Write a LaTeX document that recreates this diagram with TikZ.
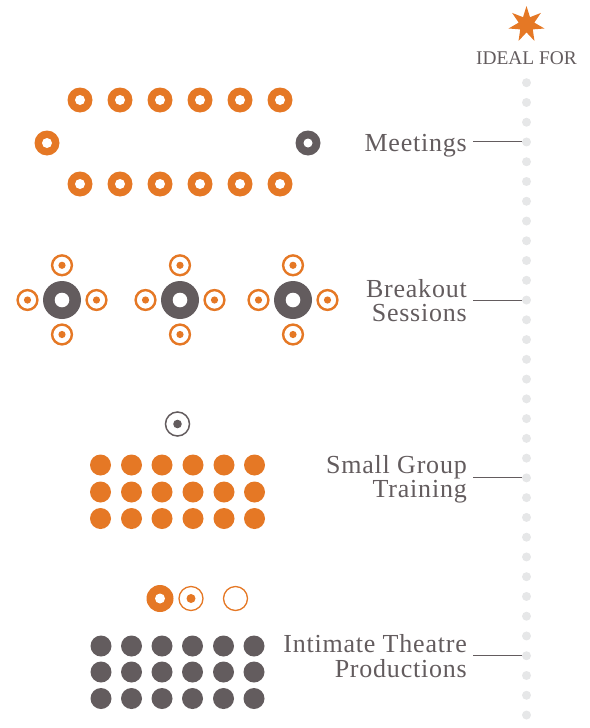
\documentclass[tikz,border=0pt]{standalone}
\usepackage{fontspec}
\setmainfont{Liberation Serif}
\newfontfamily\labfont[LetterSpace=3]{Liberation Serif}
\definecolor{org}{HTML}{E57825}
\definecolor{gry}{HTML}{635C5E}
\definecolor{lgt}{HTML}{E6E7E8}
\tikzset{
  soliddisc/.style={circle,inner sep=0pt,minimum size=21pt,fill=#1},
  seat/.pic={\fill[org] (0,0) circle (12.5pt); \fill[white] (0,0) circle (5pt);},
  gseat/.pic={\fill[gry] (0,0) circle (12.5pt); \fill[white] (0,0) circle (4.5pt);},
  hub/.pic={\fill[gry] (0,0) circle (19pt); \fill[white] (0,0) circle (7.3pt);},
  sat/.pic={\draw[org,line width=2.4pt,fill=white] (0,0) circle (9.9pt); \fill[org] (0,0) circle (3.6pt);},
  lab/.style={anchor=east,align=right,text=gry,font=\labfont\fontsize{26}{24.2}\selectfont,inner sep=0pt},
  lead/.style={draw=gry,line width=1pt},
  track/.style={circle,inner sep=0pt,minimum size=9pt,fill=lgt}
}
\begin{document}
\begin{tikzpicture}[x=1pt,y=-1pt]
\useasboundingbox (0,0) rectangle (589,728);
% track of dots
\foreach \i in {0,...,32}
  \node[track] (t\i) at (526.5,{82.7+19.76*\i}) {};
% star (seven points)
\fill[org] (526.5,6)
  \foreach \a in {0,1,...,6}{ -- ({526.5+18.4*sin(360/7*\a)},{24.4-18.4*cos(360/7*\a)}) -- ({526.5+8*sin(360/7*\a+180/7)},{24.4-8*cos(360/7*\a+180/7)}) } -- cycle;
\node[text=gry,font=\fontsize{19.4}{24}\selectfont,inner sep=0pt] (ideal) at (526.5,58) {IDEAL FOR};
% Meetings
\foreach \x in {80,120,160,200,240,280}{
  \pic at (\x,100) {seat};
  \pic at (\x,184) {seat};
}
\pic at (47,143) {seat};
\pic at (308,143) {gseat};
% Breakout
\foreach \x in {62,180,293}{
  \pic at (\x,300) {hub};
  \pic at (\x,265.3) {sat};
  \pic at (\x,334.5) {sat};
  \pic at (\x-34.5,300) {sat};
  \pic at (\x+34.5,300) {sat};
}
% Small group
\draw[gry,line width=1.5pt] (177.5,424) circle (12pt);
\fill[gry] (177.5,424) circle (4.3pt);
\foreach \x in {100.5,131.5,162,193,224,254.5}
  \foreach \y in {465,492,518.5}
    \node[soliddisc=org] at (\x,\y) {};
% Intimate theatre
\fill[org] (160,598.5) circle (13.5pt);
\fill[white] (160,598.5) circle (5pt);
\draw[org,line width=1.3pt] (191,598.5) circle (12pt);
\fill[org] (191,598.5) circle (4.5pt);
\draw[org,line width=1.3pt] (235.5,598.5) circle (12pt);
\foreach \x in {101,131.5,162,192.5,223.5,254}
  \foreach \y in {646,672,698.5}
    \node[soliddisc=gry] at (\x,\y) {};
% labels
\node[lab] (m) at (467,145.5) {Meetings};
\node[lab] (b) at (467,300.5) {Breakout\\Sessions};
\node[lab] (s) at (467,479.5) {Small Group\\Training};
\node[lab] (i) at (467,656) {Intimate Theatre\\Productions};
\coordinate (ml) at (473,0 |- t3);
\coordinate (bl) at (473,0 |- t11);
\coordinate (sl) at (473,0 |- t20);
\coordinate (il) at (473,0 |- t29);
\draw[lead] (ml) -- (ml -| t3.west);
\draw[lead] (bl) -- (bl -| t11.west);
\draw[lead] (sl) -- (sl -| t20.west);
\draw[lead] (il) -- (il -| t29.west);
\end{tikzpicture}
\end{document}
